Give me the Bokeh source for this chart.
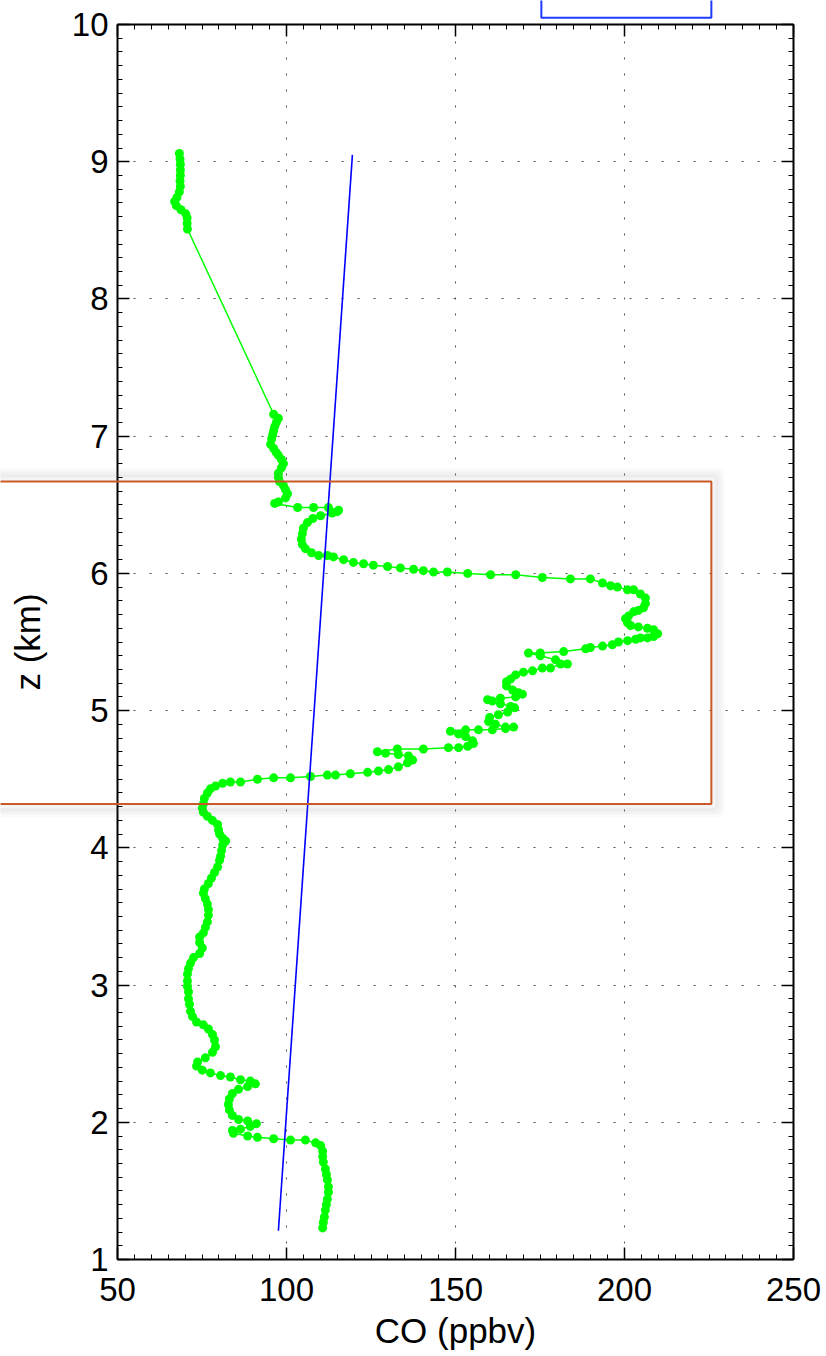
import numpy as np
from bokeh.plotting import figure
from bokeh.models import (BoxAnnotation, LinearAxis, Range1d, FixedTicker,
                          CustomLabelingPolicy, Grid)
from bokeh.embed import file_html
from bokeh.resources import INLINE

co_ppbv = [
    68.3, 68.5, 68.6, 68.6, 68.6, 68.5, 68.6, 68.3, 67.6, 66.9, 67.4, 68.8, 70.2, 70.6, 70.6, 70.7,
    96.2, 97.6, 97.0, 96.5, 96.2, 95.9, 95.6, 95.3, 96.2, 97.0, 97.6, 98.5, 99.1, 98.5, 97.6, 97.6,
    97.9, 99.1, 99.7, 100.3, 99.7, 97.6, 96.5,
    103.3, 108.0, 112.4, 115.4, 115.0, 113.5, 110.1, 107.8, 106.2, 105.0, 104.7, 104.4, 104.7, 105.6,
    107.4, 109.5, 112.1,
    113.9, 116.9, 119.8, 122.8, 125.7, 129.9, 133.7, 137.6, 140.5, 143.5, 147.6, 153.6, 160.4, 167.8,
    175.7, 184.0, 189.9, 193.5, 195.9,
    197.9, 200.9, 202.7, 204.7, 206.2, 206.2, 205.6, 204.1, 202.7, 201.2, 200.3, 200.9, 201.8, 204.1,
    206.8, 208.6, 209.8, 208.6, 206.8, 204.7,
    203.3, 200.9, 198.2, 196.4, 193.5, 189.9, 188.5, 182.0, 175.1, 171.6, 175.1, 179.6, 183.1, 181.1,
    178.1, 175.7, 172.8, 170.1, 167.8, 166.3, 165.1, 165.1, 166.9, 168.6, 169.8, 167.8, 163.3, 159.5,
    160.9, 163.3, 166.3, 167.5, 165.4, 162.7, 160.1, 159.8, 161.8, 164.8, 167.2, 164.8, 160.9, 156.8,
    153.0, 148.5, 150.9, 153.0, 155.0, 155.3, 153.6, 150.9, 147.9, 140.5, 132.8, 126.9, 129.3, 133.1,
    136.1, 137.3, 135.8, 133.1, 130.2, 127.2, 124.0, 118.9, 114.5, 112.1, 107.1, 101.2, 96.2, 91.4,
    86.4, 83.4, 81.1, 79.0, 77.5,
    76.6, 75.7, 75.4, 75.1, 75.4, 76.6, 78.1, 79.6, 79.9, 80.2, 81.1, 82.0, 81.1, 80.8, 80.5, 80.2,
    79.6, 78.7, 77.8, 76.9, 75.7, 75.4, 76.0, 76.6, 76.9, 76.9, 76.6, 76.0, 75.4, 74.3, 74.3, 75.1,
    74.3, 72.5, 71.6, 71.0, 70.7, 70.7, 70.7, 71.0, 71.0, 71.3, 71.6, 72.2, 73.4, 75.4, 76.9, 78.1,
    78.7, 79.0, 78.1, 76.0, 73.7, 73.4, 75.1, 77.5, 80.5, 83.4, 86.4, 89.3, 90.8, 88.5, 85.8, 84.0,
    83.1, 82.8, 83.1, 84.0, 85.8, 88.5, 91.1, 89.3, 86.4, 84.0, 84.3,
    88.5, 91.4, 96.2, 101.2, 105.6, 108.6, 110.1, 110.7, 110.7, 110.9, 111.5, 111.8, 112.1, 112.4,
    112.4, 112.1, 111.8, 111.5, 111.2, 110.9, 110.7,
]
z_km = [
    9.06, 9.02, 8.98, 8.94, 8.90, 8.86, 8.82, 8.78, 8.74, 8.71, 8.68, 8.65, 8.62, 8.59, 8.55, 8.51,
    7.16, 7.13, 7.10, 7.07, 7.04, 7.01, 6.98, 6.94, 6.91, 6.88, 6.86, 6.83, 6.80, 6.77, 6.73, 6.70,
    6.67, 6.64, 6.61, 6.58, 6.55, 6.52, 6.51,
    6.48, 6.48, 6.48, 6.46, 6.45, 6.44, 6.42, 6.40, 6.37, 6.33, 6.29, 6.25, 6.21, 6.18,
    6.15, 6.13, 6.13,
    6.12, 6.10, 6.08, 6.07, 6.06, 6.05, 6.04, 6.03, 6.02, 6.01, 6.01, 6.00, 5.99, 5.99,
    5.97, 5.96, 5.96, 5.93, 5.91,
    5.90, 5.88, 5.88, 5.85, 5.82, 5.78, 5.75, 5.73, 5.72, 5.69, 5.67, 5.64, 5.62, 5.61,
    5.60, 5.59, 5.56, 5.54, 5.53, 5.53,
    5.52, 5.51, 5.50, 5.48, 5.47, 5.46, 5.45, 5.43, 5.42, 5.42, 5.40, 5.37, 5.34, 5.34,
    5.31, 5.31, 5.29, 5.28, 5.26, 5.23, 5.21, 5.18, 5.15, 5.13, 5.12, 5.10, 5.09, 5.08,
    5.07, 5.05, 5.03, 5.02, 4.99, 4.97, 4.95, 4.92, 4.90, 4.88, 4.88, 4.87, 4.86, 4.86,
    4.86, 4.85, 4.83, 4.81, 4.78, 4.76, 4.74, 4.73, 4.73, 4.72, 4.72, 4.70, 4.69, 4.68,
    4.67, 4.64, 4.62, 4.59, 4.57, 4.56, 4.55, 4.54, 4.53, 4.53, 4.52, 4.51, 4.51, 4.50,
    4.48, 4.48, 4.47, 4.45, 4.43,
    4.40, 4.36, 4.32, 4.29, 4.26, 4.23, 4.20, 4.17, 4.13, 4.10, 4.07, 4.05, 4.02, 3.98, 3.94, 3.91,
    3.86, 3.82, 3.78, 3.74, 3.70, 3.67, 3.63, 3.59, 3.55, 3.51, 3.46, 3.42, 3.38, 3.35, 3.31, 3.27,
    3.23, 3.20, 3.16, 3.12, 3.08, 3.03, 2.99, 2.95, 2.90, 2.86, 2.81, 2.77, 2.73, 2.71, 2.68, 2.64,
    2.60, 2.55, 2.51, 2.47, 2.44, 2.41, 2.38, 2.36, 2.34, 2.33, 2.31, 2.30, 2.28, 2.26, 2.24, 2.21,
    2.17, 2.13, 2.09, 2.05, 2.02, 2.01, 1.99, 1.97, 1.95, 1.94, 1.92,
    1.90, 1.89, 1.88, 1.87, 1.87, 1.85, 1.83, 1.79, 1.75, 1.71, 1.66, 1.62, 1.58, 1.53,
    1.49, 1.44, 1.40, 1.36, 1.31, 1.27, 1.23,
]

# ---- straight reference (blue) line ----
model_co = [97.6, 119.5]
model_z = [1.21, 9.05]

# ---- axes ----
x_lim = (50, 250)
y_lim = (1, 10)
x_ticks = [50, 100, 150, 200, 250]
y_ticks = [1, 2, 3, 4, 5, 6, 7, 8, 9, 10]
x_minor = [50 + 5 * i for i in range(41)]
y_minor = [round(1 + 0.1 * i, 2) for i in range(91)]

# ---- highlight boxes (data units) ----
orange_box = dict(left=0.0, right=225.7, bottom=4.32, top=6.67)
blue_box = dict(left=175.4, right=225.7, bottom=10.05, top=10.6)

# ---- page geometry (pixels) ----
W, H = 826, 1356
FL, FR, FT, FB = 117, 793, 24, 1259          # where the axes box sits
ppx = (FR - FL) / (x_lim[1] - x_lim[0])       # px per ppbv
ppy = (FB - FT) / (y_lim[1] - y_lim[0])       # px per km

FONT = "Liberation Sans"

p = figure(width=W, height=H,
           x_range=Range1d(x_lim[0] - FL / ppx, x_lim[1] + (W - FR) / ppx),
           y_range=Range1d(y_lim[0] - (H - FB) / ppy, y_lim[1] + FT / ppy),
           output_backend="svg", toolbar_location=None,
           x_axis_location=None, y_axis_location=None,
           min_border=0, min_border_left=0, min_border_right=0,
           min_border_top=0, min_border_bottom=0)
p.background_fill_color = "white"
p.border_fill_color = "white"
p.outline_line_color = None
for g0 in list(p.xgrid) + list(p.ygrid):
    g0.visible = False


def style_axis(ax, labelled):
    ax.axis_line_color = "black"
    ax.axis_line_width = 2
    ax.major_tick_in = 12
    ax.major_tick_out = 0
    ax.minor_tick_in = 5
    ax.minor_tick_out = 0
    ax.major_tick_line_color = "black"
    ax.minor_tick_line_color = "black"
    ax.major_tick_line_width = 1.5
    ax.minor_tick_line_width = 1
    if labelled:
        ax.major_label_text_font = FONT
        ax.major_label_text_font_size = "33px"
        ax.major_label_text_color = "black"
        ax.axis_label_text_font = FONT
        ax.axis_label_text_font_size = "35px"
        ax.axis_label_text_font_style = "normal"
        ax.axis_label_text_color = "black"
    else:
        ax.major_label_policy = CustomLabelingPolicy(
            code="const all = []; for (const i of indices) all.push(i); "
                 "for (const i of all) indices.unset(i); return indices")


xax = LinearAxis(ticker=FixedTicker(ticks=x_ticks, minor_ticks=x_minor),
                 axis_label="CO (ppbv)", fixed_location=y_lim[0], bounds=x_lim,
                 major_label_standoff=18, axis_label_standoff=7)
yax = LinearAxis(ticker=FixedTicker(ticks=y_ticks, minor_ticks=y_minor),
                 axis_label="z (km)", fixed_location=x_lim[0], bounds=y_lim,
                 major_label_standoff=9, axis_label_standoff=22)
tax = LinearAxis(ticker=FixedTicker(ticks=x_ticks, minor_ticks=x_minor),
                 fixed_location=y_lim[1], bounds=x_lim)
rax = LinearAxis(ticker=FixedTicker(ticks=y_ticks, minor_ticks=y_minor),
                 fixed_location=x_lim[1], bounds=y_lim)
style_axis(xax, True)
style_axis(yax, True)
style_axis(tax, False)
style_axis(rax, False)
p.add_layout(xax, "below")
p.add_layout(yax, "left")
p.add_layout(tax, "above")
p.add_layout(rax, "right")

for dim, tk, b, cb in ((0, xax.ticker, x_lim, y_lim), (1, yax.ticker, y_lim, x_lim)):
    g = Grid(dimension=dim, ticker=tk, bounds=b, cross_bounds=cb,
             grid_line_color="#555555", grid_line_width=1, grid_line_dash="2 14")
    p.add_layout(g)

GREEN = "#00FF00"
p.line(co_ppbv, z_km, line_color=GREEN, line_width=1.5)
p.scatter(co_ppbv, z_km, size=9, fill_color=GREEN, line_color=None)

p.line(model_co, model_z, line_color="#0000FF", line_width=1.6)

# soft shadow around the orange box
for d, a in ((10, 0.04), (7, 0.06), (4, 0.08)):
    p.add_layout(BoxAnnotation(left=orange_box["left"],
                               right=orange_box["right"] + d / ppx,
                               bottom=orange_box["bottom"] - d / ppy,
                               top=orange_box["top"] + d / ppy,
                               fill_color=None, fill_alpha=0,
                               line_color="#777777", line_alpha=a, line_width=6))

p.add_layout(BoxAnnotation(**orange_box, fill_color=None, fill_alpha=0,
                           line_color="#C85A28", line_alpha=1, line_width=2))
p.add_layout(BoxAnnotation(**blue_box, fill_color="white", fill_alpha=1,
                           line_color="#1E3CFF", line_alpha=1, line_width=2))

open("out.html", "w").write(file_html(p, INLINE))
